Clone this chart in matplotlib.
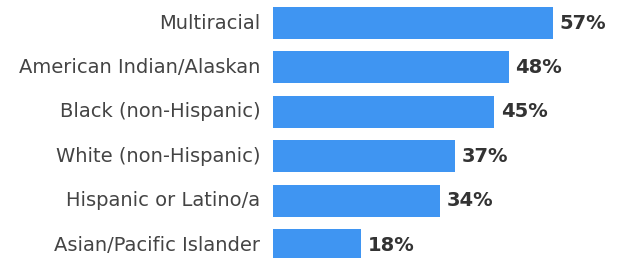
import matplotlib.pyplot as plt

groups = ["Multiracial", "American Indian/Alaskan", "Black (non-Hispanic)",
          "White (non-Hispanic)", "Hispanic or Latino/a", "Asian/Pacific Islander"]
pct = [57, 48, 45, 37, 34, 18]

plt.rcParams["font.family"] = ["DejaVu Sans"]

fig = plt.figure(figsize=(6.19, 2.58), dpi=100)
ax = fig.add_axes([273 / 619, 0, 1 - 273 / 619, 1])

ypos = list(range(len(groups)))
ax.barh(ypos, pct, height=0.72, color="#3f95f2")
for y, v in zip(ypos, pct):
    ax.text(v + 1.4, y, f"{v}%", va="center", ha="left",
            fontsize=14, fontweight="bold", color="#333333")

ax.set_xlim(0, 70.5)
ax.set_ylim(5.29, -0.518)
ax.set_yticks(ypos)
ax.set_yticklabels(groups, fontsize=14, color="#444444", va="center")
ax.tick_params(axis="y", length=0, pad=9)
ax.set_xticks([])
for s in ax.spines.values():
    s.set_visible(False)

fig.savefig("out.png", dpi=100)
